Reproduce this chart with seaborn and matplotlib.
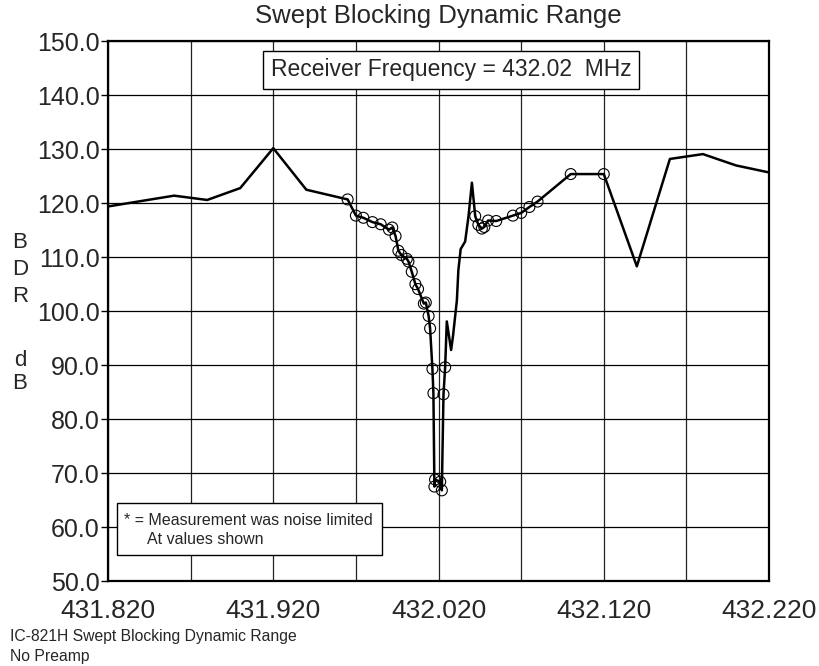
import matplotlib
matplotlib.use("Agg")
import matplotlib.pyplot as plt
from matplotlib.patches import Rectangle
from matplotlib.ticker import FixedLocator, FuncFormatter
import seaborn as sns
import pandas as pd

# Swept blocking dynamic range sweep around the 432.02 MHz receive frequency
freq_mhz = [
    431.820, 431.860, 431.880, 431.900, 431.920, 431.940,
    431.9650, 431.9700, 431.9745, 431.9800, 431.9850, 431.9900, 431.9920,
    431.9940, 431.9957, 431.9975, 432.0008, 432.0018, 432.0038, 432.0060,
    432.0076, 432.0111, 432.0123, 432.0140, 432.0149, 432.0163, 432.0169,
    432.0175, 432.0179, 432.0210, 432.0220, 432.0230, 432.0240,
    432.0250, 432.0276, 432.0288, 432.0311, 432.0320, 432.0334, 432.0361,
    432.0381, 432.0402,
    432.0422, 432.0441, 432.0462, 432.0477, 432.0500, 432.0549, 432.0650,
    432.0700, 432.0750, 432.0799, 432.1000, 432.1200,
    432.140, 432.160, 432.180, 432.200, 432.220,
]
bdr_db = [
    119.4, 121.4, 120.6, 122.8, 130.2, 122.5,
    120.7, 117.7, 117.3, 116.5, 116.1, 115.1, 115.5,
    113.9, 111.2, 110.4, 109.7, 109.2, 107.3, 105.0,
    104.1, 101.4, 101.6, 99.1, 96.8, 89.3, 84.8,
    67.5, 68.8, 68.4, 66.8, 84.6, 89.6,
    98.1, 92.8, 95.5, 102.0, 107.6, 111.5, 112.9,
    117.5, 123.8,
    117.6, 116.0, 115.3, 115.6, 116.8, 116.7, 117.7,
    118.2, 119.3, 120.3, 125.4, 125.4,
    108.3, 128.2, 129.1, 127.0, 125.7,
]
# points taken as individual measurements (drawn with circles)
measured = [False] * 6 + [True] * 27 + [False] * 9 + [True] * 12 + [False] * 5

x_ticks = [431.820, 431.920, 432.020, 432.120, 432.220]
x_minor = [431.870, 431.970, 432.070, 432.170]
y_ticks = [50, 60, 70, 80, 90, 100, 110, 120, 130, 140, 150]

df = pd.DataFrame({"freq": freq_mhz, "bdr": bdr_db, "measured": measured})

sns.set_theme(style="white")
plt.rcParams["font.family"] = ["Liberation Sans", "DejaVu Sans"]

fig = plt.figure(figsize=(8.19, 6.66), dpi=100)
ax = fig.add_axes([0.1319, 0.1276, 0.8071, 0.8104])

sns.lineplot(data=df, x="freq", y="bdr", sort=False, estimator=None,
             color="black", linewidth=1.8, ax=ax, zorder=3)
sns.scatterplot(data=df[df["measured"]], x="freq", y="bdr", s=62,
                marker="o", facecolors="none", edgecolor="black",
                linewidth=0.8, ax=ax, zorder=4)

ax.set_xlim(431.82, 432.22)
ax.set_ylim(50, 150)
ax.set_xticks(x_ticks)
ax.xaxis.set_minor_locator(FixedLocator(x_minor))
ax.set_yticks(y_ticks)
ax.xaxis.set_major_formatter(FuncFormatter(lambda v, p: f"{v:.3f}"))
ax.yaxis.set_major_formatter(FuncFormatter(lambda v, p: f"{v:.1f}"))
ax.tick_params(axis="x", which="both", length=0, pad=13, labelsize=19)
ax.tick_params(axis="y", which="major", length=5, width=1, direction="out",
               pad=1, labelsize=18, left=True, color="black")
ax.grid(True, which="both", axis="x", color="#222222", linewidth=0.9)
ax.grid(True, which="major", axis="y", color="black", linewidth=0.9)
ax.set_axisbelow(True)
for sp in ax.spines.values():
    sp.set_color("black")
    sp.set_linewidth(1.6)
ax.set_xlabel("")
ax.set_ylabel("")

ax.set_title("Swept Blocking Dynamic Range", fontsize=18.5, y=1.047,
             va="center", pad=0)

ax.text(0.519, 0.947, "Receiver Frequency = 432.02  MHz", transform=ax.transAxes,
        ha="center", va="center", fontsize=16.5, zorder=6,
        bbox=dict(boxstyle="square,pad=0.33", facecolor="white",
                  edgecolor="black", linewidth=1.0))

ax.add_patch(Rectangle((0.0132, 0.0482), 0.4009, 0.0969, transform=ax.transAxes,
                       facecolor="white", edgecolor="black", linewidth=1.0,
                       zorder=6))
ax.text(0.0242, 0.1117, "* = Measurement was noise limited", transform=ax.transAxes,
        ha="left", va="center", fontsize=11.5, zorder=7)
ax.text(0.0585, 0.0773, "At values shown", transform=ax.transAxes,
        ha="left", va="center", fontsize=11.5, zorder=7)

# stacked vertical axis label
for ch, ypix in zip(["B", "D", "R", "d", "B"], [242.7, 269.3, 296.0, 360.0, 383.3]):
    fig.text(20 / 819, 1 - ypix / 666, ch, ha="center", va="center", fontsize=16)

fig.text(10 / 819, 1 - 637 / 666, "IC-821H Swept Blocking Dynamic Range",
         ha="left", va="center", fontsize=11.3)
fig.text(10 / 819, 1 - 657 / 666, "No Preamp", ha="left", va="center", fontsize=11.3)

fig.savefig("out.png", dpi=100)
